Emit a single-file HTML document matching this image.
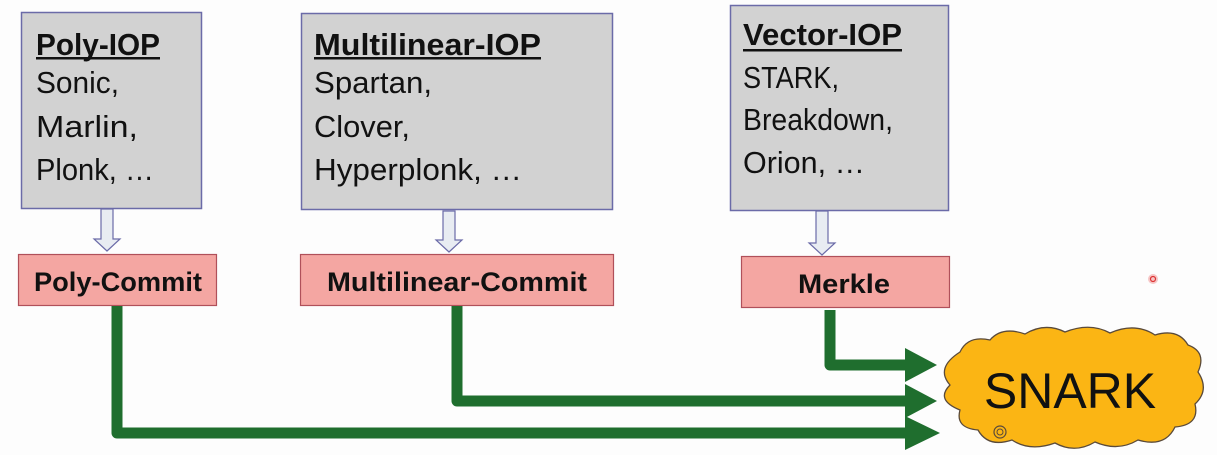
<!DOCTYPE html>
<html><head><meta charset="utf-8"><style>
html,body{margin:0;padding:0;background:#fdfdfd;width:1217px;height:455px;overflow:hidden}
svg{display:block}
text{font-family:"Liberation Sans",sans-serif}
</style></head><body>
<svg width="1217" height="455" viewBox="0 0 1217 455" xmlns="http://www.w3.org/2000/svg">
<rect x="21.5" y="12.5" width="180" height="196" fill="#d2d2d2" stroke="#6b6ba8" stroke-width="1.5"/>
<rect x="301.5" y="13.5" width="311" height="196" fill="#d2d2d2" stroke="#6b6ba8" stroke-width="1.5"/>
<rect x="730.5" y="5.5" width="218" height="205" fill="#d2d2d2" stroke="#6b6ba8" stroke-width="1.5"/>
<g font-size="31" fill="#111">
<text x="36" y="55" font-weight="bold" textLength="124" lengthAdjust="spacingAndGlyphs">Poly-IOP</text>
<rect x="36" y="57" width="124" height="2.5" fill="#111"/>
<text x="36" y="93" textLength="83" lengthAdjust="spacingAndGlyphs">Sonic,</text>
<text x="36" y="137" textLength="102" lengthAdjust="spacingAndGlyphs">Marlin,</text>
<text x="36" y="180" textLength="118" lengthAdjust="spacingAndGlyphs">Plonk, …</text>

<text x="314" y="55" font-weight="bold" textLength="227" lengthAdjust="spacingAndGlyphs">Multilinear-IOP</text>
<rect x="314" y="57" width="227" height="2.5" fill="#111"/>
<text x="314" y="93" textLength="118" lengthAdjust="spacingAndGlyphs">Spartan,</text>
<text x="314" y="137" textLength="96" lengthAdjust="spacingAndGlyphs">Clover,</text>
<text x="314" y="180" textLength="208" lengthAdjust="spacingAndGlyphs">Hyperplonk, …</text>

<text x="743" y="45" font-weight="bold" textLength="159" lengthAdjust="spacingAndGlyphs">Vector-IOP</text>
<rect x="743" y="49" width="159" height="2.5" fill="#111"/>
<text x="743" y="88" textLength="96" lengthAdjust="spacingAndGlyphs">STARK,</text>
<text x="743" y="130" textLength="150" lengthAdjust="spacingAndGlyphs">Breakdown,</text>
<text x="743" y="173" textLength="122" lengthAdjust="spacingAndGlyphs">Orion, …</text>
</g>
<g fill="#e8ecf2" stroke="#6b6ba8" stroke-width="1.2">
<path d="M101,209 H113 V239 H120 L107,251 L94,239 H101 Z"/>
<path d="M443,211 H455 V240 H462 L449,252 L436,240 H443 Z"/>
<path d="M816,211 H828 V243 H835 L822,255 L809,243 H816 Z"/>
</g>
<g fill="#f4a6a2" stroke="#b0505a" stroke-width="1.2">
<rect x="18.5" y="254.5" width="198" height="51"/>
<rect x="300.5" y="254.5" width="313" height="51"/>
<rect x="741.5" y="256.5" width="208" height="51"/>
</g>
<g font-size="27" font-weight="bold" fill="#111">
<text x="34" y="291" textLength="168" lengthAdjust="spacingAndGlyphs">Poly-Commit</text>
<text x="327" y="291" textLength="260" lengthAdjust="spacingAndGlyphs">Multilinear-Commit</text>
<text x="798" y="293" textLength="92" lengthAdjust="spacingAndGlyphs">Merkle</text>
</g>
<g fill="none" stroke="#1f6e2e" stroke-width="11" stroke-linejoin="round">
<path d="M117,306 V433 H910"/>
<path d="M457,306 V401 H910"/>
<path d="M830,310 V365 H910"/>
</g>
<g fill="#1f6e2e">
<path d="M905,348 L937,365 L905,382 Z"/>
<path d="M905,384 L937,401 L905,418 Z"/>
<path d="M905,416 L940,433 L905,450 Z"/>
</g>
<path d="M960,352 Q968,335 990,340 Q1002,326 1025,334 Q1045,322 1065,332 Q1090,322 1110,333 Q1135,322 1155,335 Q1178,328 1188,345 Q1207,352 1198,372 Q1210,390 1195,404 Q1200,425 1175,427 Q1165,448 1138,440 Q1118,452 1095,442 Q1075,454 1055,443 Q1030,452 1012,440 Q988,448 978,430 Q955,428 960,410 Q935,400 950,385 Q935,368 960,352 Z" fill="#fbb514" stroke="#5a4a3a" stroke-width="1.3"/>
<circle cx="1000" cy="432" r="6" fill="none" stroke="#5a4a3a" stroke-width="1.2"/>
<circle cx="1000" cy="432" r="3" fill="none" stroke="#5a4a3a" stroke-width="1"/>
<text x="1070" y="408" font-size="50" fill="#111" text-anchor="middle">SNARK</text>
<circle cx="1153" cy="279" r="5" fill="#f6c6c6"/>
<circle cx="1153" cy="279" r="2.5" fill="none" stroke="#d33" stroke-width="1.2"/>
</svg>
</body></html>
